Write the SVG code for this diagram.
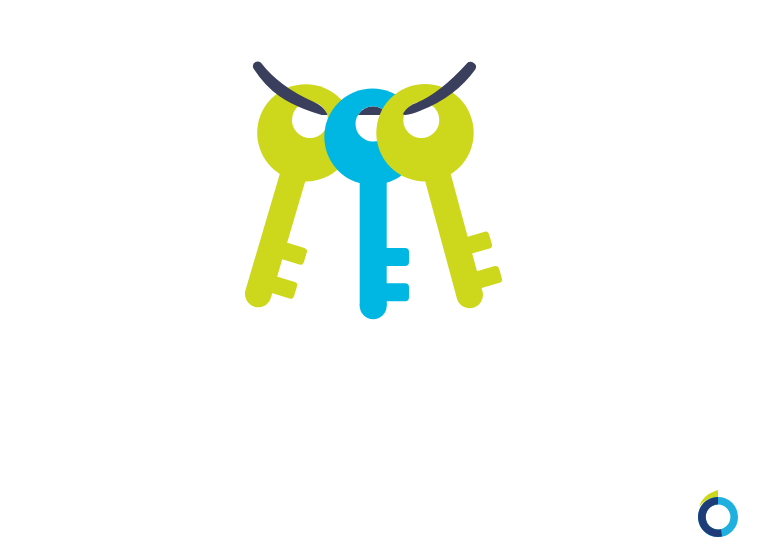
<svg xmlns="http://www.w3.org/2000/svg" width="768" height="557" viewBox="0 0 768 557">
<style>
.g{fill:#cdd71b}.b{fill:#00b7e3}.h{fill:#fff}.r{fill:#3b3f5e}
.s{stroke:#3b3f5e;stroke-width:1.800;stroke-linejoin:round}
.gs{stroke:#cdd71b;stroke-width:26.500;stroke-linecap:round;fill:none}
</style>
<defs>
<rect id="tooth" x="-30" y="-8.700" width="30" height="17.400" rx="3.500"/>
</defs>
<rect width="768" height="557" fill="#fff"/>
<g id="key-left">
<circle class="g" cx="305.800" cy="132.800" r="48.600"/>
<line class="gs" x1="258.200" y1="294" x2="293" y2="176"/>
<use href="#tooth" class="g" transform="translate(305.300,257.300) rotate(17)"/>
<use href="#tooth" class="g" transform="translate(295.500,291.300) rotate(17)"/>
<circle class="h" cx="310" cy="120" r="18"/>
</g>
<g id="connectors">
<path class="r s" d="M254 67.500C253 63.500 257 61 260.500 63.500C270 76 285 90 313 102.500C320 105.500 324 109 326.300 114.100L322 114.100C316 112.500 295 106 280 95.500C268 87 260 77 254 67.500Z"/>
</g>
<g id="key-middle">
<circle class="b" cx="372.500" cy="136.800" r="48.200"/>
<rect class="b" x="359.700" y="175" width="27" height="131"/>
<circle class="b" cx="373.200" cy="305.700" r="13.500"/>
<rect class="b" x="380" y="248" width="29" height="18" rx="4"/>
<rect class="b" x="380" y="283.300" width="29" height="18" rx="4"/>
<circle class="h" cx="373" cy="124" r="17.500"/>
<path class="r" d="M358 115A17.500 17.500 0 0 1 388 115Z"/>
</g>
<g id="key-right">
<circle class="g" cx="425" cy="132.800" r="48.700"/>
<line class="gs" x1="469.700" y1="295" x2="437.500" y2="176"/>
<use href="#tooth" class="g" transform="translate(490.500,239.200) rotate(-16)"/>
<use href="#tooth" class="g" transform="translate(500.500,273.500) rotate(-16)"/>
<circle class="h" cx="421.300" cy="120" r="18"/>
</g>
<g id="rope-right">
<path class="r s" d="M467.500 64C471 61 477 64.500 474.500 69C463 85 445 100 421 109.500C415 112 411 113.800 405.500 114.100L404 113.800C407 108.500 411 105.500 417 103.500C437 95 453 80 467.500 64Z"/>
</g>
<g id="logo">
<path fill="#cdd71b" d="M718 490C708 493 702 498 699 507C704 501 710 497.500 718 497Z"/>
<circle cx="718" cy="517" r="16.200" fill="none" stroke="#1fb0e0" stroke-width="7.600"/>
<path d="M718 497A20 20 0 1 0 722 536.600L721 529.200A12.500 12.500 0 1 1 718 504.500Z" fill="#1d3c78"/>
</g>
</svg>
